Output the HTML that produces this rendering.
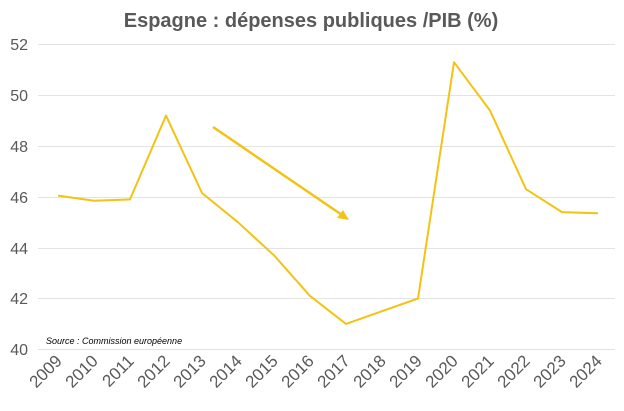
<!DOCTYPE html>
<html><head><meta charset="utf-8"><style>
body{margin:0;background:#fff;width:624px;height:406px;overflow:hidden}
text{font-family:"Liberation Sans",sans-serif}
</style></head><body>
<svg width="624" height="406" xmlns="http://www.w3.org/2000/svg">
<rect width="624" height="406" fill="#fff"/>
<text x="311" y="27" text-anchor="middle" font-size="20" font-weight="bold" fill="#595959">Espagne : dépenses publiques /PIB (%)</text>
<g stroke="#e3e3e3" stroke-width="1">
<line x1="38" x2="615" y1="44.5" y2="44.5"/>
<line x1="38" x2="615" y1="95.5" y2="95.5"/>
<line x1="38" x2="615" y1="146.5" y2="146.5"/>
<line x1="38" x2="615" y1="197.5" y2="197.5"/>
<line x1="38" x2="615" y1="248.5" y2="248.5"/>
<line x1="38" x2="615" y1="298.5" y2="298.5"/>
<line x1="38" x2="615" y1="349.5" y2="349.5"/>
</g>
<g font-size="16" fill="#595959" text-anchor="end">
<text x="28" y="50">52</text><text x="28" y="101">50</text><text x="28" y="152">48</text>
<text x="28" y="203">46</text><text x="28" y="254">44</text><text x="28" y="304">42</text><text x="28" y="355">40</text>
</g>
<text x="46" y="344" font-size="9" font-style="italic" fill="#000">Source : Commission européenne</text>
<g font-size="17" fill="#595959" text-anchor="end">
<text transform="translate(63,362) rotate(-45)">2009</text>
<text transform="translate(99,362) rotate(-45)">2010</text>
<text transform="translate(135,362) rotate(-45)">2011</text>
<text transform="translate(171,362) rotate(-45)">2012</text>
<text transform="translate(207,362) rotate(-45)">2013</text>
<text transform="translate(243,362) rotate(-45)">2014</text>
<text transform="translate(279,362) rotate(-45)">2015</text>
<text transform="translate(315,362) rotate(-45)">2016</text>
<text transform="translate(351,362) rotate(-45)">2017</text>
<text transform="translate(387,362) rotate(-45)">2018</text>
<text transform="translate(423,362) rotate(-45)">2019</text>
<text transform="translate(459,362) rotate(-45)">2020</text>
<text transform="translate(495,362) rotate(-45)">2021</text>
<text transform="translate(531,362) rotate(-45)">2022</text>
<text transform="translate(567,362) rotate(-45)">2023</text>
<text transform="translate(603,362) rotate(-45)">2024</text>
</g>
<polyline fill="none" stroke="#F2C314" stroke-width="2" stroke-linejoin="round"
points="58,195.6 94,200.7 130,199.4 166,115.6 202,193 238,222.3 274,255.3 310,295.9 346,323.9 382,311.2 418,298.5 454,62.2 490,110.5 526,189.2 562,212.1 598,213.3"/>
<line x1="213" y1="127" x2="342" y2="215" stroke="#F2C314" stroke-width="2.5"/>
<polygon points="349,220 337,218 343,210" fill="#F2C314"/>
</svg>
</body></html>
